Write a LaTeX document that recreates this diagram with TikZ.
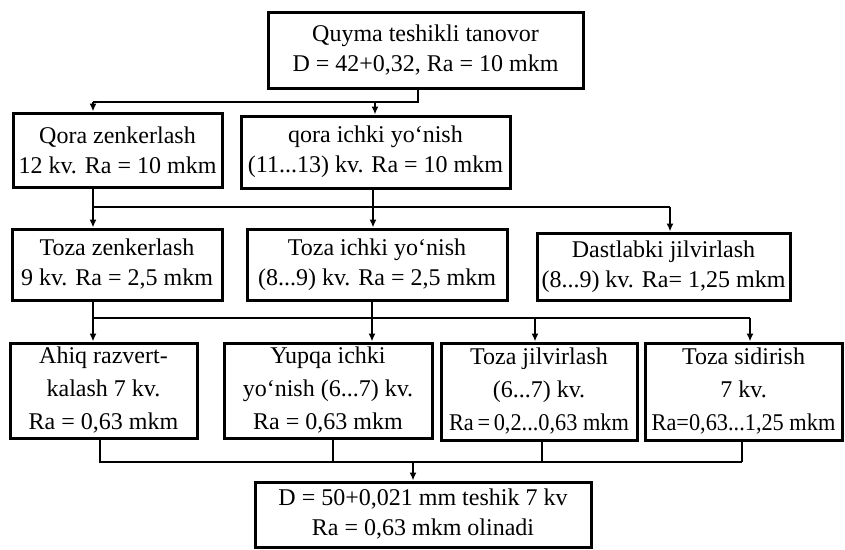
\documentclass[tikz,border=0pt]{standalone}
\usepackage{fontspec}
\setmainfont{Liberation Serif}
\usepackage{graphicx}
\usetikzlibrary{arrows.meta}
\newcommand{\squeeze}[2]{\scalebox{#1}[1]{#2}}
\tikzset{
  box/.style={draw, line width=3pt, inner sep=0pt, align=center,
    font=\fontsize{24}{30}\selectfont},
  box3/.style={box, font=\fontsize{24}{33}\selectfont},
  link/.style={line width=2.2pt},
  arr/.style={line width=2.2pt, -{Latex[length=8pt,width=7pt]}}
}
\begin{document}
\begin{tikzpicture}[x=1pt,y=-1pt]
\useasboundingbox (0,0) rectangle (845,549);
% boxes
\node[box, minimum width=315pt, minimum height=76pt] (top) at (425.5,50)
  {Quyma teshikli tanovor\\D = 42+0,32, Ra = 10 mkm};
\node[box, minimum width=209pt, minimum height=74pt] (r2a) at (117.5,150)
  {Qora zenkerlash\\12 kv. Ra = 10 mkm};
\node[box, minimum width=269pt, minimum height=72pt] (r2b) at (375.5,152)
  {qora ichki yo‘nish\\(11...13) kv. Ra = 10 mkm};
\node[box, minimum width=210pt, minimum height=71pt] (r3a) at (117,264.5)
  {Toza zenkerlash\\9 kv. Ra = 2,5 mkm};
\node[box, minimum width=260pt, minimum height=71pt] (r3b) at (377,264.5)
  {Toza ichki yo‘nish\\(8...9) kv. Ra = 2,5 mkm};
\node[box, minimum width=253pt, minimum height=67pt] (r3c) at (663.5,266.5)
  {Dastlabki jilvirlash\\(8...9) kv. Ra= 1,25 mkm};
\node[box3, minimum width=187pt, minimum height=95pt] (r4a) at (103.5,390.5)
  {Ahiq razvert-\\kalash 7 kv.\\Ra = 0,63 mkm};
\node[box3, minimum width=208pt, minimum height=95pt] (r4b) at (328,390.5)
  {Yupqa ichki\\yo‘nish (6...7) kv.\\Ra = 0,63 mkm};
\node[box3, minimum width=196pt, minimum height=97pt] (r4c) at (539,391.5)
  {Toza jilvirlash\\(6...7) kv.\\\squeeze{0.93}{Ra\,=\,0,2...0,63 mkm}};
\node[box3, minimum width=197pt, minimum height=97pt] (r4d) at (743.5,391.5)
  {Toza sidirish\\7 kv.\\\squeeze{0.93}{Ra=0,63...1,25 mkm}};
\node[box, minimum width=336pt, minimum height=65pt] (bot) at (423,514.5)
  {D = 50+0,021 mm teshik 7 kv\\Ra = 0,63 mkm olinadi};
% junctions
\coordinate (j0) at (418,102);
\coordinate (h1a) at (93,102);
\coordinate (h1b) at (375,102);
\coordinate (c2a) at (93,207);
\coordinate (c2b) at (373,207);
\coordinate (c2c) at (670,207);
\coordinate (c3a) at (93,318);
\coordinate (c3b) at (372,318);
\coordinate (c3c) at (535,318);
\coordinate (c3d) at (750,318);
\coordinate (c4a) at (100,462);
\coordinate (c4b) at (333,462);
\coordinate (c4m) at (413,462);
\coordinate (c4c) at (542,462);
\coordinate (c4d) at (742,462);
% top -> row 2
\draw[link] (top.south -| j0) -- (j0) -- (h1a);
\draw[arr] (h1a) -- (r2a.north -| h1a);
\draw[arr] (h1b) -- (r2b.north -| h1b);
% row 2 -> row 3
\draw[link] (r2a.south -| c2a) -- (c2a) -- (c2c);
\draw[link] (r2b.south -| c2b) -- (c2b);
\draw[arr] (c2a) -- (r3a.north -| c2a);
\draw[arr] (c2b) -- (r3b.north -| c2b);
\draw[arr] (c2c) -- (r3c.north -| c2c);
% row 3 -> row 4
\draw[link] (r3a.south -| c3a) -- (c3a) -- (c3d);
\draw[link] (r3b.south -| c3b) -- (c3b);
\draw[arr] (c3a) -- (r4a.north -| c3a);
\draw[arr] (c3b) -- (r4b.north -| c3b);
\draw[arr] (c3c) -- (r4c.north -| c3c);
\draw[arr] (c3d) -- (r4d.north -| c3d);
% row 4 -> bottom
\draw[link] (r4a.south -| c4a) -- (c4a) -- (c4d);
\draw[link] (r4b.south -| c4b) -- (c4b);
\draw[link] (r4c.south -| c4c) -- (c4c);
\draw[link] (r4d.south -| c4d) -- (c4d);
\draw[arr] (c4m) -- (bot.north -| c4m);
\end{tikzpicture}
\end{document}
